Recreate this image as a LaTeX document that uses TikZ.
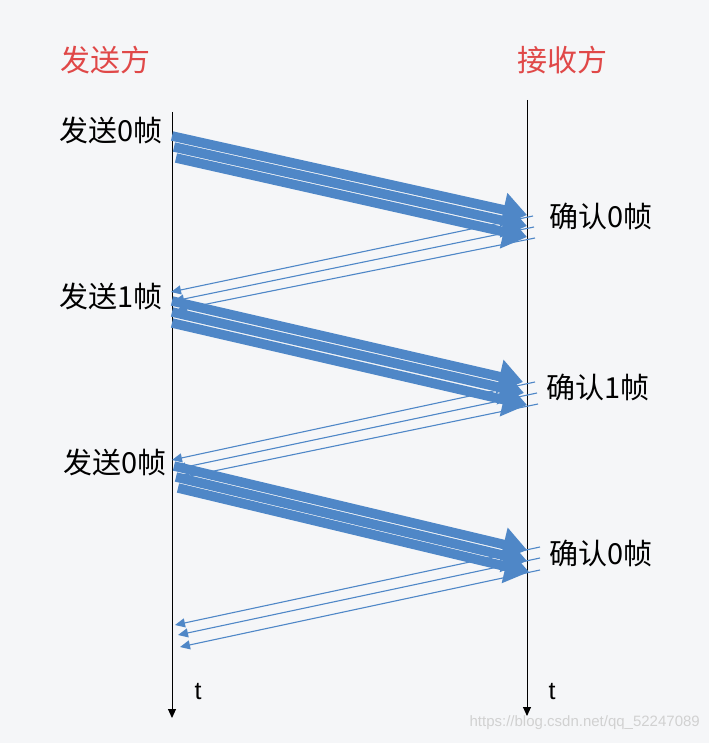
\documentclass[tikz,border=0pt]{standalone}
\usepackage{fontspec}
\setmainfont{Noto Sans CJK SC}
\newfontfamily\latinsans{Liberation Sans}
\usetikzlibrary{arrows.meta}
\definecolor{bg}{HTML}{F5F6F8}
\definecolor{flow}{HTML}{4F87C7}
\definecolor{titlered}{HTML}{E04848}
\tikzset{
  x=1pt, y=-1pt,
  thickarrow/.style={draw=flow, line width=9.5pt, -{Triangle[length=24pt,width=33pt]}},
  thinarrow/.style={draw=flow, line width=1.1pt, -{Triangle[length=10pt,width=9pt]}},
  timeline/.style={draw=black, line width=1pt, -{Triangle[length=9pt,width=8pt]}},
  title/.style={text=titlered, font=\fontsize{30}{32}\selectfont, inner sep=0pt},
  lab/.style={text=black, font=\fontsize{29}{31}\selectfont, inner sep=0pt},
  tlab/.style={text=black, font=\latinsans\fontsize{25}{27}\selectfont, inner sep=0pt},
}
\begin{document}
\begin{tikzpicture}
\fill[bg] (0,0) rectangle (709,743);
\useasboundingbox (0,0) rectangle (709,743);

% titles
\node[title] (sender) at (105,60) {发送方};
\node[title] (receiver) at (562,60) {接收方};

% timelines
\coordinate (Ltop) at (172,112);
\coordinate (Lbot) at (172,718);
\coordinate (Rtop) at (527,100);
\coordinate (Rbot) at (527,716);
\draw[timeline] (Ltop) -- (Lbot);
\draw[timeline] (Rtop) -- (Rbot);
\node[tlab] (tL) at (198,692) {t};
\node[tlab] (tR) at (552,692) {t};

% labels
\node[lab] (send0a) at (111,130) {发送0帧};
\node[lab] (ack0a) at (601,216) {确认0帧};
\node[lab] (send1) at (111,296) {发送1帧};
\node[lab] (ack1) at (598,387) {确认1帧};
\node[lab] (send0b) at (115,462) {发送0帧};
\node[lab] (ack0b) at (601,553) {确认0帧};

% return (ack) arrows, group 1
\coordinate (r1a) at (533,216); \coordinate (e1a) at (171,292);
\coordinate (r1b) at (534,227); \coordinate (e1b) at (174,301);
\coordinate (r1c) at (535,238); \coordinate (e1c) at (177,310);
\draw[thinarrow] (r1a) -- (e1a);
\draw[thinarrow] (r1b) -- (e1b);
\draw[thinarrow] (r1c) -- (e1c);
% group 2
\coordinate (r2a) at (535,382); \coordinate (e2a) at (172,460);
\coordinate (r2b) at (537,393); \coordinate (e2b) at (176,469);
\coordinate (r2c) at (538,404); \coordinate (e2c) at (180,478);
\draw[thinarrow] (r2a) -- (e2a);
\draw[thinarrow] (r2b) -- (e2b);
\draw[thinarrow] (r2c) -- (e2c);
% group 3
\coordinate (r3a) at (540,547); \coordinate (e3a) at (175,625);
\coordinate (r3b) at (540,558); \coordinate (e3b) at (178,635);
\coordinate (r3c) at (540,570); \coordinate (e3c) at (180,647);
\draw[thinarrow] (r3a) -- (e3a);
\draw[thinarrow] (r3b) -- (e3b);
\draw[thinarrow] (r3c) -- (e3c);

% data frame arrows, group 1
\coordinate (s1a) at (172,136); \coordinate (t1a) at (527,215);
\coordinate (s1b) at (174,147); \coordinate (t1b) at (527,226);
\coordinate (s1c) at (176,158); \coordinate (t1c) at (527,237);
\draw[thickarrow] (s1a) -- (t1a);
\draw[thickarrow] (s1b) -- (t1b);
\draw[thickarrow] (s1c) -- (t1c);
% group 2
\coordinate (s2a) at (172,301); \coordinate (t2a) at (523,382);
\coordinate (s2b) at (172,312); \coordinate (t2b) at (524,393);
\coordinate (s2c) at (172,323); \coordinate (t2c) at (527,405);
\draw[thickarrow] (s2a) -- (t2a);
\draw[thickarrow] (s2b) -- (t2b);
\draw[thickarrow] (s2c) -- (t2c);
% group 3
\coordinate (s3a) at (174,466); \coordinate (t3a) at (527,550);
\coordinate (s3b) at (176,477); \coordinate (t3b) at (527,561);
\coordinate (s3c) at (178,488); \coordinate (t3c) at (529,572);
\draw[thickarrow] (s3a) -- (t3a);
\draw[thickarrow] (s3b) -- (t3b);
\draw[thickarrow] (s3c) -- (t3c);

% watermark
\node[text=black!18, font=\latinsans\fontsize{15}{17}\selectfont, anchor=east, inner sep=0pt] (wm) at (700,723) {https://blog.csdn.net/qq\_52247089};
\end{tikzpicture}
\end{document}
